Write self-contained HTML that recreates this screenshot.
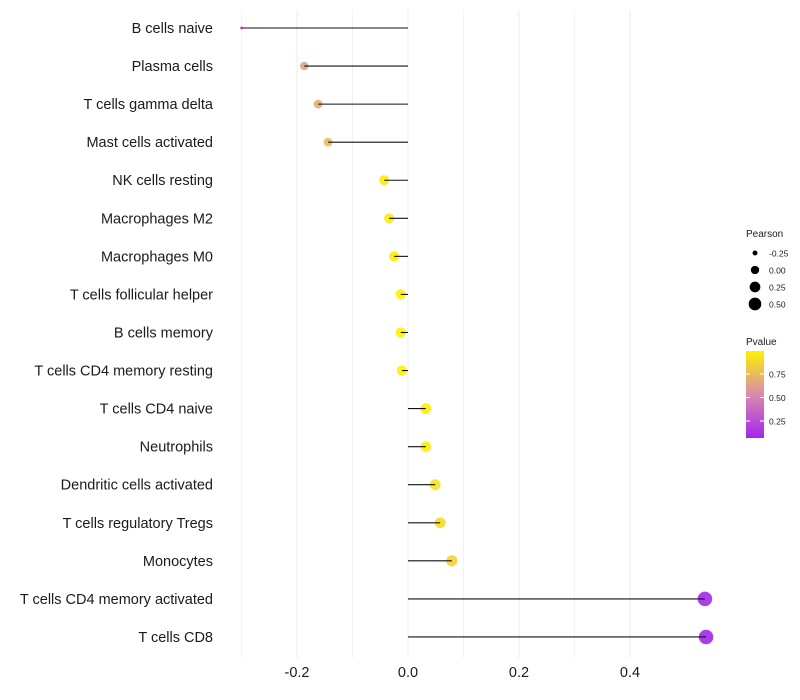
<!DOCTYPE html>
<html><head><meta charset="utf-8"><style>
body{margin:0;background:#fff;font-family:"Liberation Sans",sans-serif}
svg{display:block}
</style></head><body>
<svg id="chart" width="800" height="700">
<g id="grid"></g>
<g id="marks"></g>
<g id="ylab"></g>
<g id="xlab"></g>
<g id="legend"></g>
</svg>
<script>
const categories=["B cells naive","Plasma cells","T cells gamma delta","Mast cells activated","NK cells resting","Macrophages M2","Macrophages M0","T cells follicular helper","B cells memory","T cells CD4 memory resting","T cells CD4 naive","Neutrophils","Dendritic cells activated","T cells regulatory  Tregs","Monocytes","T cells CD4 memory activated","T cells CD8"];
const pearson=[-0.30,-0.187,-0.162,-0.144,-0.043,-0.034,-0.025,-0.013,-0.013,-0.011,0.032,0.032,0.049,0.058,0.079,0.535,0.537];
const pvalues=[0.30,0.62,0.68,0.74,0.96,0.96,0.97,0.99,0.99,0.99,0.97,0.97,0.92,0.90,0.85,0.04,0.03];
const xTicks=[-0.2,0,0.2,0.4];
const xTickLabels=["-0.2","0.0","0.2","0.4"];
const sizeLegend=[-0.25,0,0.25,0.5];
const pLegend=[0.25,0.5,0.75];
const NS="http://www.w3.org/2000/svg";
const x=v=>408+v*555;
const y=i=>28+i*38.06;
const r=v=>v<-0.28?1.5:Math.sqrt(Math.max(2,27+48*v));
const rl=v=>Math.sqrt(6.25+(v+0.25)*45);
function lerp(a,b,t){return a.map((c,i)=>Math.round(c+(b[i]-c)*t));}
function col(p){const stops=[[0,[160,32,240]],[0.5,[216,136,176]],[1,[255,242,0]]];
 p=Math.max(0,Math.min(1,p));for(let i=0;i<2;i++){if(p<=stops[i+1][0]){const t=(p-stops[i][0])/(stops[i+1][0]-stops[i][0]);return "rgb("+lerp(stops[i][1],stops[i+1][1],t)+")";}}}
function mk(tag,attrs,parent,txt){const e=document.createElementNS(NS,tag);for(const k in attrs)e.setAttribute(k,attrs[k]);if(txt!==undefined)e.textContent=txt;parent.appendChild(e);return e;}
const grid=document.getElementById('grid');
for(let k=-3;k<=4;k++){const v=k/10;const gl=mk('line',{x1:x(v),x2:x(v),y1:10,y2:658,stroke:k%2==0?'#ebebeb':'#f2f2f2','stroke-width':1},grid);

}
const marks=document.getElementById('marks'),ylab=document.getElementById('ylab');
categories.forEach((c,i)=>{
 const pt=mk('circle',{cx:x(pearson[i]),cy:y(i),r:r(pearson[i]),fill:col(pvalues[i]),'fill-opacity':0.9},marks);
 
 
 const ln=mk('line',{x1:x(0),x2:x(pearson[i]),y1:y(i),y2:y(i),stroke:'#111','stroke-width':1.1},marks);
 
 
 const t=mk('text',{x:213,y:y(i)+5,'text-anchor':'end','font-size':14.5,fill:'#1a1a1a'},ylab,c);
 
 
});
const xlab=document.getElementById('xlab');
xTicks.forEach((v,i)=>{const t=mk('text',{x:x(v),y:677,'text-anchor':'middle','font-size':14.5,fill:'#1a1a1a'},xlab,xTickLabels[i]);

});
const lg=document.getElementById('legend');
const t1=mk('text',{x:746,y:237,'font-size':10,fill:'#1a1a1a'},lg,'Pearson');


sizeLegend.forEach((v,i)=>{const cy=253+i*17;
 const c=mk('circle',{cx:755,cy:cy,r:rl(v),fill:'#000'},lg);
 
 
 const t=mk('text',{x:769,y:cy+3.5,'font-size':8.5,fill:'#1a1a1a'},lg,v.toFixed(2));
 
 });
const t2=mk('text',{x:746,y:345,'font-size':10,fill:'#1a1a1a'},lg,'Pvalue');


const defs=mk('defs',{},lg);const gr=mk('linearGradient',{id:'pg',x1:0,y1:1,x2:0,y2:0},defs);
for(let k=0;k<=10;k++){const p=0.03+k*0.096;mk('stop',{offset:k/10,'stop-color':col(p)},gr);}
const bar=mk('rect',{x:746,y:351,width:18,height:87,fill:'url(#pg)'},lg);


const py=p=>444.5-p*94;
pLegend.forEach(p=>{mk('line',{x1:746,x2:750,y1:py(p),y2:py(p),stroke:'#fff'},lg);mk('line',{x1:760,x2:764,y1:py(p),y2:py(p),stroke:'#fff'},lg);
 const t=mk('text',{x:769,y:py(p)+3.5,'font-size':8.5,fill:'#1a1a1a'},lg,p.toFixed(2));
 
 });
</script>
</body></html>
